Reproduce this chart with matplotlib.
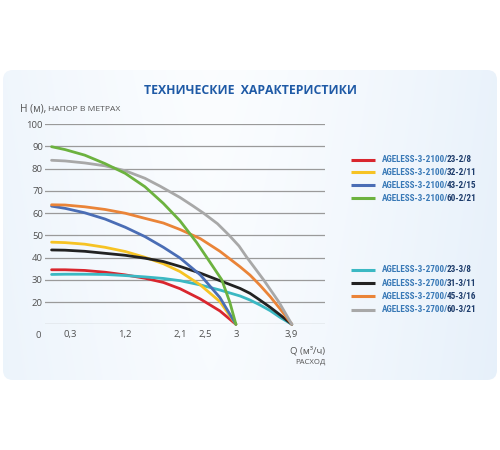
import numpy as np
import matplotlib
matplotlib.use('Agg')
import matplotlib.pyplot as plt
from matplotlib.patches import FancyBboxPatch

plt.rcParams['font.family'] = ['Open Sans', 'DejaVu Sans']

# flow Q (m3/h) and head H (m)
q_2100 = [0, 0.22, 0.54, 0.87, 1.2, 1.52, 1.82, 2.09, 2.42, 2.74, 3.0]
h_2100_23 = [34.5, 34.5, 34.2, 33.4, 32.2, 30.7, 28.8, 26.0, 21.4, 16.0, 10]
h_2100_32 = [46.9, 46.7, 46.0, 44.6, 42.7, 40.1, 37.2, 33.7, 27.7, 20.2, 10]
h_2100_43 = [63.1, 62.1, 60.1, 57.3, 53.6, 49.4, 44.6, 39.8, 32.2, 22.0, 10]

q_2100_60 = [0, 0.22, 0.54, 0.87, 1.2, 1.52, 1.82, 2.09, 2.36, 2.52, 2.77, 2.9, 3.0]
h_2100_60 = [89.8, 88.5, 86.0, 82.2, 77.8, 71.8, 64.3, 56.5, 46.8, 40.3, 30, 20, 10]

q_2700 = [0, 0.22, 0.54, 0.87, 1.2, 1.52, 1.82, 2.09, 2.42, 2.74, 3.07, 3.23, 3.39, 3.56, 3.72, 3.91]
h_2700_23 = [32.4, 32.5, 32.5, 32.4, 31.9, 31.3, 30.6, 29.6, 27.7, 25.4, 22.7, 20.9, 18.7, 16.1, 13.1, 10]
h_2700_31 = [43.4, 43.3, 42.8, 41.9, 41.0, 39.7, 38.2, 36.0, 33.0, 29.6, 26.1, 23.9, 20.9, 17.6, 14.2, 10]
h_2700_45 = [63.7, 63.6, 62.8, 61.6, 59.9, 57.6, 55.5, 52.6, 48.5, 42.8, 35.8, 32.1, 27.6, 22.4, 16.9, 10]

q_2700_60 = [0, 0.22, 0.54, 0.87, 1.2, 1.52, 1.77, 2.09, 2.3, 2.47, 2.7, 2.89, 3.05, 3.18, 3.45, 3.7, 3.91]
h_2700_60 = [83.7, 83.4, 82.5, 81.2, 79.0, 75.6, 72.0, 67.0, 63.2, 60, 55.2, 50, 45.2, 40, 30, 20, 10]

x_ticks = [0.3, 1.2, 2.1, 2.5, 3, 3.9]
x_tick_labels = ['0,3', '1,2', '2,1', '2,5', '3', '3,9']
y_ticks = [10, 20, 30, 40, 50, 60, 70, 80, 90, 100]

group1 = ['23-2/8', '32-2/11', '43-2/15', '60-2/21']
group2 = ['23-3/8', '31-3/11', '45-3/16', '60-3/21']
colors1 = ['#d9262e', '#f6c324', '#4a6db5', '#6cb23f']
colors2 = ['#3bb8c3', '#222222', '#ea8438', '#a8a8a8']

fig = plt.figure(figsize=(5, 4.5), dpi=100)
fig.patch.set_facecolor('white')

# background panel in pixel coordinates
bg = fig.add_axes([0, 0, 1, 1], zorder=0)
bg.set_xlim(0, 500)
bg.set_ylim(450, 0)
bg.axis('off')
gx = np.linspace(0, 1, 300)
gy = np.linspace(0, 1, 100)
X, Y = np.meshgrid(gx, gy)
d = np.clip(np.abs(X - 0.42) / 0.58, 0, 1) ** 1.3 * 0.8 + Y * 0.15
c0 = np.array([0.985, 0.992, 1.0])
c1 = np.array([0.90, 0.94, 0.98])
img = c0[None, None, :] * (1 - d[..., None]) + c1[None, None, :] * d[..., None]
panel = FancyBboxPatch((3, 70), 494, 310, boxstyle='round,pad=0,rounding_size=10',
                       facecolor='none', edgecolor='none')
bg.add_patch(panel)
im = bg.imshow(img, extent=(3, 497, 380, 70), aspect='auto', interpolation='bilinear')
im.set_clip_path(panel)

bg.text(250, 90, 'ТЕХНИЧЕСКИЕ  ХАРАКТЕРИСТИКИ', ha='center', va='center',
        fontsize=8.8, fontweight='bold', color='#1f5aa6')
r = fig.canvas.get_renderer()
t = bg.text(20, 109, 'H (м),', ha='left', va='center', fontsize=7.4, color='#555555')
bb = t.get_window_extent(renderer=r)
bg.text(bb.x1 + 2, 109.5, 'НАПОР В МЕТРАХ', ha='left', va='center', fontsize=6.1, color='#555555')
bg.text(38, 335, '0', ha='center', va='center', fontsize=6.8, color='#555555')
bg.text(325, 351, 'Q (м³/ч)', ha='right', va='center', fontsize=6.8, color='#555555')
bg.text(325, 362, 'РАСХОД', ha='right', va='center', fontsize=5.6, color='#555555')

# legend
leg_font = ['Liberation Sans Narrow', 'Roboto Condensed', 'Roboto']
def legend_row(y, color, prefix, suffix):
    bg.plot([351, 375], [y, y], color=color, lw=2.2, solid_capstyle='butt')
    tp = bg.text(382, y, prefix, ha='left', va='center', fontsize=6.6,
                 fontweight='bold', color='#3a7ab7', family=leg_font)
    b = tp.get_window_extent(renderer=r)
    bg.text(b.x1 - 1.5, y, suffix, ha='left', va='center', fontsize=6.6,
            fontweight='bold', color='#1d3c6b', family=leg_font)

for i in range(4):
    legend_row(159.5 + i * 12.9, colors1[i], 'AGELESS-3-2100/', group1[i])
for i in range(4):
    legend_row(270 + i * 13.2, colors2[i], 'AGELESS-3-2700/', group2[i])

# chart
ax = fig.add_axes([0.09, 1 - 324.3 / 450, 0.56, (324.3 - 124) / 450], zorder=1)
ax.set_facecolor('none')
ax.set_xlim(-0.107, 4.45)
ax.set_ylim(10, 100)
for s in ax.spines.values():
    s.set_visible(False)
ax.set_yticks(y_ticks)
ax.set_yticklabels([''] + [str(v) for v in y_ticks[1:]])
ax.set_xticks(x_ticks)
ax.set_xticklabels(x_tick_labels)
ax.tick_params(axis='both', length=0, labelsize=6.8, labelcolor='#505050')
ax.tick_params(axis='y', pad=1.5)
ax.tick_params(axis='x', pad=4)
ax.grid(axis='y', color='#9a9a9a', lw=0.9)
ax.set_axisbelow(True)

curves = [
    (q_2100, h_2100_23, colors1[0]),
    (q_2700, h_2700_23, colors2[0]),
    (q_2100, h_2100_32, colors1[1]),
    (q_2700, h_2700_31, colors2[1]),
    (q_2100, h_2100_43, colors1[2]),
    (q_2700, h_2700_45, colors2[2]),
    (q_2700_60, h_2700_60, colors2[3]),
    (q_2100_60, h_2100_60, colors1[3]),
]
for q, h, c in curves:
    ax.plot(q, h, color=c, lw=2.0, clip_on=False, solid_capstyle='round',
            solid_joinstyle='round')

fig.savefig('out.png', dpi=100)
